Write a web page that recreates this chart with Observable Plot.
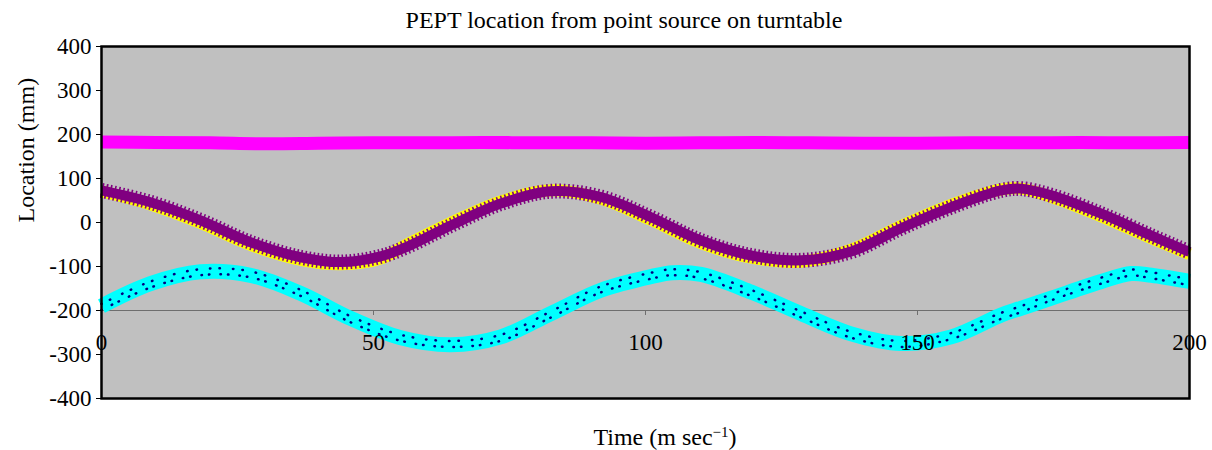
<!DOCTYPE html>
<html><head><meta charset="utf-8">
<script src="https://cdn.jsdelivr.net/npm/d3@7"></script>
<script src="https://cdn.jsdelivr.net/npm/@observablehq/plot@0.6"></script>
<style>
html,body{margin:0;padding:0;background:#fff;overflow:hidden}
#wrap{position:relative;width:1212px;height:450px;font-family:"Times New Roman","Liberation Serif",serif;color:#000}
.lbl{position:absolute;transform:translateX(-50%);white-space:nowrap;font-size:24px;z-index:2}
.lbl sup{font-size:15px;line-height:0;vertical-align:0.55em}
</style></head><body>
<div id="wrap"><div id="chart"></div>
<div class="lbl" id="title" style="left:624px;top:0;line-height:40px">PEPT location from point source on turntable</div>
<div class="lbl" id="xlabel" style="left:665px;top:418px;line-height:38px">Time (m sec<sup>−1</sup>)</div>
</div>
<script>
// Tick values
const X_TICKS = [0, 50, 100, 150, 200];
const Y_TICKS = [-400, -300, -200, -100, 0, 100, 200, 300, 400];

// Magenta series (near-constant)
const T_MAGENTA = [0, 10, 20, 30, 40, 50, 60, 70, 80, 90, 100, 110, 120, 130, 140, 150, 160, 170, 180, 190, 200];
const MAGENTA   = [183, 182, 181, 179, 180, 181, 181, 182, 181, 181, 180, 181, 182, 181, 180, 180, 181, 181, 182, 181, 182];

// Purple (x markers) and yellow series
const T_PURPLE = [0, 9, 18.2, 27.4, 36.6, 44, 51.3, 56, 64.2, 73.4, 82.6, 91.8, 101, 110.2, 119.4, 128.6, 137.8, 147, 156.2, 165.4, 169, 174.6, 183.8, 193, 200];
const PURPLE   = [73, 46, 5, -45, -79, -90, -77, -56, -7, 43, 71, 58, 12, -41, -75, -86, -66, -13, 35, 73, 77, 62, 20, -30, -67];
const YELLOW   = [71, 41, -1, -51, -85, -95, -82, -51, -1, 48, 73, 54, 6, -47, -80, -89, -62, -8, 40, 75, 77, 58, 14, -36, -72];

// Cyan and navy series
const T_CYAN = [0, 9, 18.2, 27.4, 36.6, 45.8, 55, 64.2, 73.4, 82.6, 91.8, 101, 105, 110.2, 119.4, 128.6, 137.8, 147, 156.2, 165.4, 169, 174.6, 183.8, 189.3, 193, 200];
const CYAN   = [-190, -139, -112, -120, -161, -218, -262, -278, -260, -207, -154, -123, -114, -118, -158, -207, -253, -275, -260, -210, -195, -172, -134, -116, -120, -134];
const NAVY   = [-192, -141, -113, -118, -160, -220, -262, -276, -262, -209, -152, -121, -113, -120, -160, -209, -255, -276, -258, -212, -197, -170, -132, -114, -120, -136];

const rows = (ts, vs) => ts.map((t, i) => ({t, v: vs[i]}));
const font = '"Times New Roman","Liberation Serif",serif';

const chart = Plot.plot({
  width: 1212, height: 450,
  marginLeft: 101, marginRight: 23, marginTop: 46, marginBottom: 52,
  style: {fontFamily: font, fontSize: "23px", background: "transparent", overflow: "visible"},
  x: {domain: [0, 200], axis: null},
  y: {domain: [-400, 400], axis: null},
  marks: [
    Plot.frame({fill: "#c0c0c0"}),
    Plot.ruleY([-200], {stroke: "#6e6e6e", strokeWidth: 1}),
    Plot.ruleX(X_TICKS.slice(1, -1), {x: d => d, y1: -200, y2: -200, insetBottom: -5, stroke: "#6e6e6e"}),
    Plot.line(rows(T_MAGENTA, MAGENTA), {x: "t", y: "v", stroke: "#ff00ff", strokeWidth: 13, strokeLinecap: "butt", curve: "catmull-rom"}),
    Plot.line(rows(T_PURPLE, YELLOW), {x: "t", y: "v", stroke: "#ffff00", strokeWidth: 12, strokeLinecap: "butt", curve: "catmull-rom"}),
    Plot.line(rows(T_PURPLE, PURPLE), {x: "t", y: "v", stroke: "#800080", strokeWidth: 10, strokeLinecap: "butt", curve: "catmull-rom"}),
    Plot.line(rows(T_PURPLE, PURPLE), {x: "t", y: "v", stroke: "#800080", strokeWidth: 15, strokeDasharray: "1.6,2.6", strokeLinecap: "butt", curve: "catmull-rom"}),
    Plot.line(rows(T_CYAN, CYAN), {x: "t", y: "v", stroke: "#00ffff", strokeWidth: 15, strokeLinecap: "butt", curve: "catmull-rom"}),
    Plot.line(rows(T_CYAN, NAVY), {x: "t", y: "v", stroke: "#000080", strokeWidth: 2.5, strokeDasharray: "0.5,9,0.5,13", strokeLinecap: "round", curve: "catmull-rom", dy: -3}),
    Plot.line(rows(T_CYAN, NAVY), {x: "t", y: "v", stroke: "#000080", strokeWidth: 2.5, strokeDasharray: "0.5,11,0.5,7", strokeLinecap: "round", curve: "catmull-rom", dy: 3}),
    Plot.frame({stroke: "#000", strokeWidth: 2.5}),
    Plot.axisY({ticks: Y_TICKS, tickSize: 5, tickPadding: 5, tickFormat: d => String(d), label: null, fontSize: 23, fontFamily: font}),
    Plot.text(X_TICKS, {x: d => d, y: -200, dy: 32, text: d => String(d), fontSize: 23, fontFamily: font}),
    Plot.text(["Location (mm)"], {frameAnchor: "left", dx: -75, rotate: -90, fontSize: 24, fontFamily: font})
  ]
});
document.getElementById("chart").appendChild(chart);
</script>
</body></html>
